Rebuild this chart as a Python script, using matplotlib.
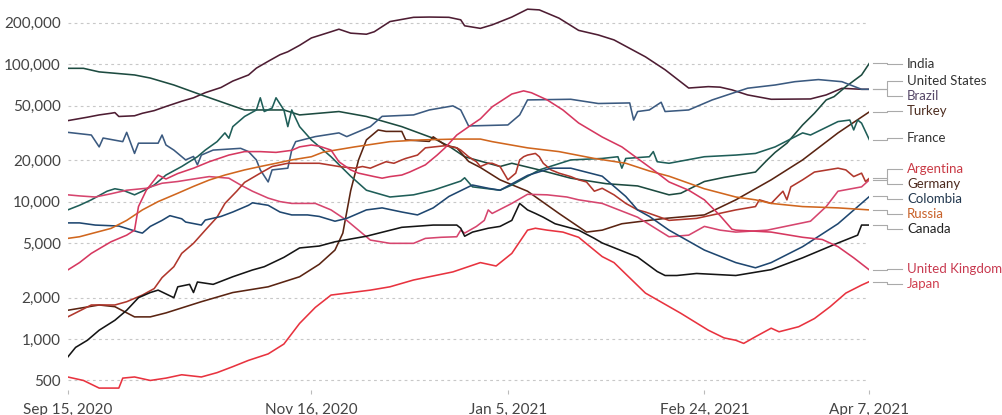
import pandas as pd
import numpy as np
import matplotlib
matplotlib.use("Agg")
import matplotlib.pyplot as plt
from matplotlib.ticker import FixedLocator, FuncFormatter

plt.rcParams["font.family"] = ["Lato", "DejaVu Sans"]

start = pd.Timestamp("2020-09-15")
end = pd.Timestamp("2021-04-07")

# new cases, 7-day average; days counted from Sep 15, 2020
us_days = [0, 5, 8, 11, 12, 13, 17, 19, 22, 25, 29, 32, 35, 39, 42, 46, 48, 51, 54, 56,
           59, 62, 67, 69, 72, 76, 78, 82, 88, 92, 97, 100, 101, 105, 108, 113, 117, 120, 125, 130,
           135, 139, 147, 152, 158, 163, 166, 169, 173, 179, 189, 193, 197, 202, 204]
us_vals = [38800, 41100, 42700, 43900, 44400, 41600, 42100, 43900, 45900, 49200, 53700, 56900, 62000, 67600, 75300, 83400, 93500, 104800, 117000, 123000,
           137000, 155000, 172000, 179500, 168000, 165000, 172000, 204000, 219000, 220000, 219000, 210000, 190000, 182000, 193000, 220000, 251000, 248000, 216000, 176000,
           163000, 150000, 113000, 91000, 67000, 68600, 68000, 65000, 59700, 55500, 55800, 59700, 66700, 65600, 65600]

india_days = [0, 4, 8, 17, 21, 27, 34, 40, 45, 55, 59, 69, 76, 85, 93, 97, 101, 107, 110, 113,
              120, 128, 137, 145, 153, 156, 162, 167, 175, 178, 180, 183, 187, 190, 193, 195, 198, 202, 204]
india_vals = [93200, 93200, 87800, 83400, 79200, 70500, 59700, 52000, 46400, 46400, 42700, 45200, 41600, 35100, 28900, 25300, 21200, 19000, 18000, 19000,
              17000, 14800, 13500, 13000, 11200, 11500, 14000, 15000, 16400, 20100, 22800, 26600, 36100, 43900, 54900, 58000, 68600, 83400, 101600]

brazil_days = [0, 6, 8, 9, 14, 15, 17, 18, 23, 24, 25, 27, 30, 32, 33, 34, 37, 44, 46, 48,
               49, 51, 52, 56, 57, 58, 63, 69, 71, 77, 80, 88, 92, 98, 100, 102, 112, 115, 117, 128,
               135, 143, 144, 145, 148, 151, 152, 158, 164, 173, 180, 185, 191, 197, 202, 204]
brazil_vals = [31900, 30500, 25000, 29000, 27300, 31900, 22400, 26600, 26600, 30500, 25800, 23700, 20100, 21300, 18500, 21800, 23700, 24400, 23100, 20100,
               17000, 13900, 17000, 17500, 23700, 27300, 29700, 31600, 29700, 35100, 41700, 42700, 46400, 49700, 46400, 35500, 36100, 42700, 54900, 55500,
               51700, 52200, 39200, 45200, 46400, 52800, 45200, 46400, 54900, 66800, 70500, 74500, 77200, 74500, 65600, 65600]

turkey_days = [0, 8, 12, 17, 21, 25, 34, 42, 51, 59, 64, 68, 70, 72, 74, 76, 79, 81, 85, 86,
               92, 93, 96, 99, 102, 105, 110, 117, 125, 132, 136, 141, 152, 162, 170, 179, 187, 196, 204]
turkey_vals = [1620, 1770, 1720, 1450, 1450, 1550, 1870, 2180, 2400, 2840, 3500, 4440, 5900, 12000, 20100, 28100, 33200, 32400, 32400, 28100,
               27400, 29600, 25800, 24600, 19600, 17700, 14400, 11900, 8200, 6000, 6200, 6900, 7550, 8000, 10300, 14400, 20100, 31600, 45000]

france_days = [0, 3, 6, 10, 12, 14, 17, 19, 22, 25, 29, 33, 35, 38, 40, 41, 42, 45, 48, 49,
               50, 52, 53, 55, 56, 57, 59, 62, 67, 72, 76, 82, 88, 93, 100, 101, 103, 110, 113, 120,
               128, 136, 140, 141, 142, 148, 149, 150, 153, 162, 170, 175, 180, 187, 189, 196, 199, 200, 201, 202, 204]
france_vals = [8700, 9400, 10300, 11900, 12400, 12100, 11200, 11900, 13200, 15600, 18000, 21200, 23700, 27300, 31600, 28900, 35100, 41600, 46400, 56900,
               45200, 47900, 56900, 46400, 35100, 46400, 35100, 28100, 21200, 15300, 12100, 10800, 11200, 12100, 14100, 14900, 12800, 12100, 13200, 17000,
               20100, 20600, 21200, 17500, 20600, 21200, 23100, 19500, 19000, 21200, 21800, 22400, 25000, 31600, 30500, 38200, 39200, 33200, 39200, 37200, 28100]

argentina_days = [0, 3, 7, 11, 15, 20, 24, 28, 32, 36, 41, 44, 47, 51, 54, 57, 63, 67, 71, 77,
                  82, 88, 91, 95, 99, 100, 101, 104, 106, 107, 108, 113, 117, 122, 127, 130, 136, 145, 153, 158,
                  162, 166, 170, 178, 189, 193, 196, 202, 204]
argentina_vals = [11200, 11000, 10800, 11400, 12100, 12500, 13600, 14000, 14600, 15200, 14800, 13200, 11900, 10600, 10000, 9700, 9700, 8700, 7300, 5250,
                  4970, 4970, 5400, 5500, 5550, 6200, 5900, 6600, 7300, 8700, 8200, 9700, 11300, 11200, 10800, 10300, 9700, 7700, 5550, 5700,
                  6600, 6200, 6000, 6200, 7200, 9200, 11900, 12800, 14400]

germany_days = [0, 6, 12, 15, 19, 22, 24, 27, 29, 32, 35, 38, 40, 43, 45, 49, 52, 56, 59, 64,
                69, 73, 75, 77, 79, 81, 83, 85, 86, 89, 91, 96, 99, 100, 102, 104, 105, 107, 108, 110,
                112, 114, 115, 116, 117, 119, 120, 121, 123, 125, 128, 130, 132, 134, 136, 139, 142, 145, 147, 153,
                160, 170, 175, 176, 179, 182, 183, 184, 187, 190, 196, 198, 200, 202, 203, 204]
germany_vals = [1450, 1770, 1770, 1870, 2090, 2330, 2800, 3360, 4200, 4970, 6200, 7700, 9700, 11900, 13800, 16100, 18000, 19000, 19000, 19000,
                18000, 17500, 18000, 17500, 18500, 19500, 19000, 20100, 20600, 21800, 24600, 25500, 24600, 23700, 21200, 19500, 18000, 19000, 19000, 18000,
                14400, 16100, 20100, 21200, 21800, 22400, 21200, 19000, 17000, 16100, 15200, 14400, 13900, 11900, 12500, 11200, 9700, 8700, 8400, 7300,
                7550, 8700, 9200, 10300, 9700, 11900, 10300, 12800, 14400, 16400, 17500, 17000, 15200, 16100, 14000, 14800]

colombia_days = [0, 3, 7, 13, 15, 18, 19, 21, 24, 26, 29, 30, 34, 35, 39, 42, 46, 47, 51, 54,
                 57, 61, 64, 68, 71, 76, 80, 85, 89, 93, 97, 102, 103, 107, 110, 117, 123, 128, 136, 142,
                 145, 148, 153, 162, 170, 175, 179, 187, 196, 204]
colombia_vals = [7000, 7000, 6750, 6640, 6380, 6000, 5900, 6600, 7300, 7900, 7500, 7100, 6750, 7340, 7800, 8400, 9400, 9800, 9400, 8400,
                 8000, 8000, 7800, 7200, 7550, 8700, 9000, 8400, 8000, 9000, 10900, 12800, 13200, 12500, 12100, 15500, 17500, 17500, 15300, 10900,
                 8700, 7800, 6200, 4440, 3600, 3300, 3600, 4700, 6900, 10900]

russia_days = [0, 3, 6, 11, 15, 19, 23, 28, 32, 36, 40, 45, 49, 53, 57, 62, 65, 73, 82, 90,
               99, 105, 108, 117, 125, 134, 142, 148, 153, 162, 170, 175, 179, 187, 196, 204]
russia_vals = [5400, 5550, 5850, 6380, 7300, 8700, 10000, 11500, 12900, 14350, 15600, 17000, 18000, 19000, 20100, 21200, 22900, 25000, 27300, 28100,
               28500, 28500, 27300, 24600, 23100, 20600, 19000, 16700, 15300, 12400, 10800, 10300, 9700, 9200, 9000, 8700]

canada_days = [0, 2, 5, 8, 12, 15, 18, 21, 23, 27, 28, 31, 32, 33, 37, 42, 47, 50, 55, 59,
               64, 68, 76, 85, 93, 99, 100, 101, 103, 107, 110, 113, 115, 117, 119, 121, 124, 130, 134, 136,
               145, 150, 152, 155, 160, 170, 179, 187, 196, 201, 202, 204]
canada_vals = [740, 870, 980, 1160, 1370, 1620, 2000, 2180, 2270, 2000, 2400, 2500, 2180, 2600, 2500, 2840, 3180, 3360, 3930, 4600,
               4750, 5100, 5600, 6500, 6750, 6750, 6400, 5600, 6000, 6400, 6600, 7300, 9700, 8700, 8200, 7700, 6900, 6200, 5400, 5000,
               3950, 3100, 2900, 2900, 3000, 2900, 3200, 3900, 5000, 5700, 6750, 6750]

uk_days = [0, 3, 6, 11, 15, 17, 18, 20, 23, 25, 28, 32, 36, 41, 45, 49, 53, 57, 59, 62,
           64, 67, 69, 72, 74, 78, 80, 82, 85, 87, 91, 94, 96, 99, 102, 105, 108, 113, 116, 118,
           122, 126, 130, 136, 141, 145, 149, 153, 158, 162, 166, 169, 170, 179, 187, 192, 196, 200, 204]
uk_vals = [3180, 3600, 4200, 5100, 5700, 6200, 9200, 12100, 15600, 14600, 16000, 17500, 19500, 21800, 23100, 23100, 22800, 23600, 25000, 25800,
           25300, 23700, 19500, 17000, 16100, 15200, 14800, 15200, 15600, 16400, 18500, 21800, 24600, 30500, 35000, 40000, 48900, 60600, 63900, 61900,
           54900, 46400, 37300, 29500, 25000, 20600, 17000, 13900, 12100, 10300, 7900, 6300, 6200, 6000, 5500, 5300, 4700, 3900, 3180]

japan_days = [0, 4, 8, 13, 14, 17, 21, 25, 29, 34, 38, 42, 46, 51, 55, 59, 63, 67, 71, 77,
              82, 88, 92, 98, 105, 109, 113, 117, 119, 122, 126, 130, 136, 139, 147, 156, 163, 167, 170, 172,
              175, 179, 181, 186, 190, 194, 198, 202, 204]
japan_vals = [530, 500, 440, 440, 520, 530, 500, 520, 550, 530, 570, 630, 700, 780, 920, 1300, 1700, 2090, 2160, 2270,
              2400, 2690, 2840, 3080, 3600, 3400, 4200, 6200, 6400, 6200, 6000, 5500, 3980, 3600, 2160, 1540, 1160, 1020, 980, 930,
              1040, 1200, 1130, 1230, 1410, 1720, 2160, 2470, 2620]

# name, days, values, line colour, label colour, label anchor (value on the log axis)
series = [
    ("United States", us_days, us_vals, "#4e1d33", "#333333", 75000),
    ("India", india_days, india_vals, "#1d4b40", "#333333", 101000),
    ("Brazil", brazil_days, brazil_vals, "#3b5a80", "#564868", 58500),
    ("Turkey", turkey_days, turkey_vals, "#5a2412", "#4d2d20", 45600),
    ("France", france_days, france_vals, "#1f5e58", "#333333", 28800),
    ("Argentina", argentina_days, argentina_vals, "#d6456e", "#c93a45", 17300),
    ("Germany", germany_days, germany_vals, "#b0372c", "#4d2b1f", 13400),
    ("Colombia", colombia_days, colombia_vals, "#1f4770", "#22384f", 10450),
    ("Russia", russia_days, russia_vals, "#d0661e", "#c8622a", 8100),
    ("Canada", canada_days, canada_vals, "#151515", "#222222", 6280),
    ("United Kingdom", uk_days, uk_vals, "#d63860", "#c83a50", 3250),
    ("Japan", japan_days, japan_vals, "#e8333f", "#d04050", 2520),
]

fig = plt.figure(figsize=(10.02, 4.15), dpi=100)
ax = fig.add_axes([0.0676, 0.0602, 0.8001, 0.9349])

for name, days, vals, lc, tc, lab in series:
    dates = start + pd.to_timedelta(days, unit="D")
    ax.plot(dates, vals, color=lc, lw=1.15, solid_joinstyle="round", zorder=3)

ax.set_yscale("log")
ax.set_ylim(426, 282900)
ax.set_xlim(start, end)

yticks = [500, 1000, 2000, 5000, 10000, 20000, 50000, 100000, 200000]
ax.yaxis.set_major_locator(FixedLocator(yticks))
ax.yaxis.set_minor_locator(FixedLocator([]))
ax.yaxis.set_major_formatter(FuncFormatter(lambda v, p: f"{int(v):,}"))
ax.grid(axis="y", color="#c8c8c8", lw=0.8, linestyle=(0, (2.5, 3)))
ax.set_axisbelow(True)

xticks = pd.to_datetime(["2020-09-15", "2020-11-16", "2021-01-05", "2021-02-24", "2021-04-07"])
ax.set_xticks(xticks)
ax.set_xticklabels([d.strftime("%b ") + str(d.day) + d.strftime(", %Y") for d in xticks])

ax.tick_params(axis="y", length=0, pad=5, labelsize=11, labelcolor="#444444")
ax.tick_params(axis="x", length=3, color="#bbbbbb", pad=6, labelsize=11, labelcolor="#444444")
for s in ax.spines.values():
    s.set_visible(False)

# end labels with leader lines
trans = ax.get_yaxis_transform()
for name, days, vals, lc, tc, lab in series:
    yend = vals[-1]
    ax.plot([1.005, 1.0215, 1.0215, 1.041], [yend, yend, lab, lab], transform=trans,
            color="#aaaaaa", lw=0.8, clip_on=False)
    ax.text(1.047, lab, name, transform=trans, ha="left", va="center",
            fontsize=9.5, color=tc, clip_on=False)

fig.savefig("out.png", dpi=100)
